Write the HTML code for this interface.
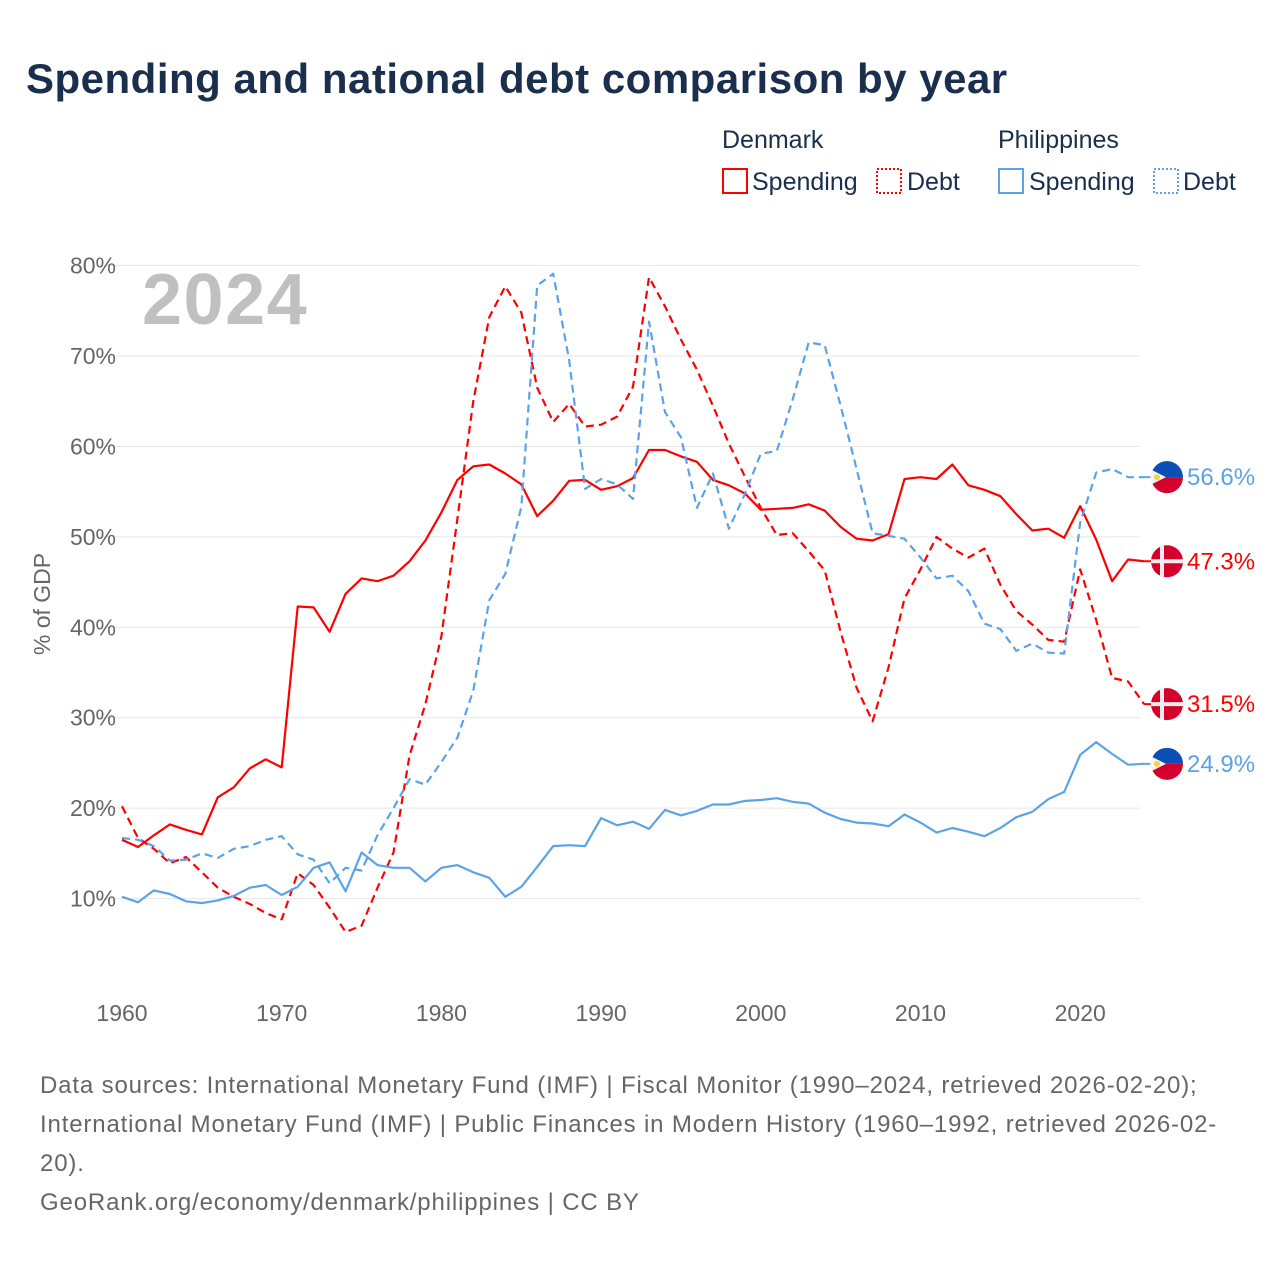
<!DOCTYPE html>
<html><head><meta charset="utf-8"><style>
body{margin:0;background:#fff;font-family:"Liberation Sans",sans-serif;}
svg text{font-family:"Liberation Sans",sans-serif;}
</style></head><body>
<svg width="1280" height="1280" viewBox="0 0 1280 1280" id="c">
<text x="26" y="93" font-size="42" font-weight="bold" fill="#1a2e4d" letter-spacing="0.5">Spending and national debt comparison by year</text>
<g font-size="25" fill="#1a2e4d">
<text x="722" y="148" fill="#1a2e4d">Denmark</text>
<text x="998" y="148" fill="#1a2e4d">Philippines</text>
<g><rect x="723" y="169" width="24" height="24" fill="none" stroke="#f00" stroke-width="2"/><text x="752" y="190" fill="#1a2e4d">Spending</text></g>
<g><rect x="877" y="169" width="24" height="24" fill="none" stroke="#f00" stroke-width="2" stroke-dasharray="2,2"/><text x="907" y="190" fill="#1a2e4d">Debt</text></g>
<g><rect x="999" y="169" width="24" height="24" fill="none" stroke="#5ba3e8" stroke-width="2"/><text x="1029" y="190" fill="#1a2e4d">Spending</text></g>
<g><rect x="1154" y="169" width="24" height="24" fill="none" stroke="#5ba3e8" stroke-width="2" stroke-dasharray="2,2"/><text x="1183" y="190" fill="#1a2e4d">Debt</text></g>
</g>
<text x="142" y="324" font-size="72" font-weight="bold" fill="#c0c0c0" letter-spacing="1.5">2024</text>
<g id="grid"></g><g id="series"></g><g id="ends"></g>
<text transform="translate(50,604) rotate(-90)" text-anchor="middle" font-size="23" fill="#666">% of GDP</text>
<g font-size="24" fill="#666" letter-spacing="0.85">
<text x="40" y="1093" fill="#666">Data sources: International Monetary Fund (IMF) | Fiscal Monitor (1990–2024, retrieved 2026-02-20);</text>
<text x="40" y="1132" fill="#666">International Monetary Fund (IMF) | Public Finances in Modern History (1960–1992, retrieved 2026-02-</text>
<text x="40" y="1171" fill="#666">20).</text>
<text x="40" y="1210" fill="#666">GeoRank.org/economy/denmark/philippines | CC BY</text>
</g>
</svg>
<script>
const years=[];for(let y=1960;y<=2024;y++)years.push(y);
const yTicks=[10,20,30,40,50,60,70,80];
const xTicks=[1960,1970,1980,1990,2000,2010,2020];
const dkSpending=[16.5,15.7,17.0,18.2,17.6,17.1,21.2,22.3,24.4,25.4,24.5,42.3,42.2,39.5,43.7,45.4,45.1,45.7,47.3,49.6,52.7,56.3,57.8,58.0,57.0,55.8,52.3,54.0,56.2,56.3,55.2,55.6,56.5,59.6,59.6,58.9,58.3,56.3,55.7,54.8,53.0,53.1,53.2,53.6,52.9,51.1,49.8,49.6,50.3,56.4,56.6,56.4,58.0,55.7,55.2,54.5,52.5,50.7,50.9,49.9,53.4,49.7,45.1,47.5,47.3];
const dkDebt=[20.2,16.7,15.5,13.9,14.6,12.9,11.2,10.2,9.4,8.4,7.7,12.8,11.5,9.0,6.3,7.0,11.2,15.1,25.8,31.5,39.0,52.0,65.0,74.3,77.7,74.8,66.5,62.7,64.7,62.2,62.4,63.3,66.6,78.7,75.5,71.8,68.5,64.5,60.3,56.7,53.2,50.2,50.4,48.4,46.3,39.5,33.3,29.6,35.6,43.2,46.4,50.0,48.7,47.7,48.7,44.7,41.8,40.3,38.6,38.4,46.4,40.8,34.4,34.0,31.5];
const phSpending=[10.2,9.6,10.9,10.5,9.7,9.5,9.8,10.3,11.2,11.5,10.4,11.3,13.4,14.0,10.8,15.1,13.7,13.4,13.4,11.9,13.4,13.7,12.9,12.3,10.2,11.3,13.5,15.8,15.9,15.8,18.9,18.1,18.5,17.7,19.8,19.2,19.7,20.4,20.4,20.8,20.9,21.1,20.7,20.5,19.5,18.8,18.4,18.3,18.0,19.3,18.4,17.3,17.8,17.4,16.9,17.8,19.0,19.6,21.0,21.8,25.9,27.3,26.0,24.8,24.9];
const phDebt=[16.7,16.5,15.8,14.2,14.3,15.0,14.5,15.5,15.8,16.5,16.9,14.9,14.3,11.7,13.4,13.1,17.0,20.0,23.2,22.6,25.1,27.8,33.0,43.0,45.9,53.3,77.8,79.1,69.5,55.3,56.4,55.8,54.2,73.8,63.8,61.0,53.2,57.0,50.9,54.7,59.2,59.5,65.2,71.5,71.2,64.5,57.5,50.4,50.1,49.8,47.7,45.4,45.7,44.0,40.4,39.8,37.4,38.2,37.2,37.1,51.6,57.1,57.5,56.6,56.6];
const NS='http://www.w3.org/2000/svg';
const X=y=>122+(y-1960)*15.97;
const Y=v=>989-v*9.043;
function mk(t,a,p){const e=document.createElementNS(NS,t);for(const k in a)e.setAttribute(k,a[k]);p.appendChild(e);return e;}
const grid=document.getElementById('grid');
yTicks.forEach(v=>{
 const l=mk('line',{x1:100,x2:1140,y1:Y(v),y2:Y(v),stroke:'#e6e6e6','stroke-width':1},grid);
 
 
 const t=mk('text',{x:116,y:Y(v)+8,'text-anchor':'end','font-size':23,fill:'#666'},grid);
 t.textContent=v+'%';
 
 
});
xTicks.forEach(v=>{
 const t=mk('text',{x:X(v),y:1021,'text-anchor':'middle','font-size':23,fill:'#666'},grid);
 t.textContent=v;
 
 
});
const ser=document.getElementById('series');
[[dkSpending,'#f00',null,'dk-spending-line'],[dkDebt,'#f00','8,5','dk-debt-line'],[phSpending,'#5ba3e8',null,'ph-spending-line'],[phDebt,'#5ba3e8','8,5','ph-debt-line']].forEach(s=>{
 const d=s[0].map((v,i)=>(i?'L':'M')+X(years[i]).toFixed(1)+','+Y(v).toFixed(1)).join('');
 const a={d:d,fill:'none',stroke:s[1],'stroke-width':2.2,'stroke-linejoin':'round'};
 if(s[2])a['stroke-dasharray']=s[2];
 const p=mk('path',a,ser);
 
 
});
const ends=document.getElementById('ends');
function flag(v,country,color,name){
 const cx=1167,cy=Y(v),r=16;
 mk('line',{x1:X(2024),x2:cx,y1:cy,y2:cy,stroke:color,'stroke-width':2},ends);
 const g=mk('g',{},ends);
 
 
 if(country==='dk'){
  mk('circle',{cx:cx,cy:cy,r:r,fill:'#d5002b'},g);
  mk('rect',{x:cx-7,y:cy-r,width:4,height:2*r,fill:'#eee'},g);
  mk('rect',{x:cx-r,y:cy-2,width:2*r,height:4,fill:'#eee'},g);
 } else {
  mk('path',{d:`M${cx-r},${cy} A${r},${r} 0 0 1 ${cx+r},${cy} Z`,fill:'#0a4fb5'},g);
  mk('path',{d:`M${cx-r},${cy} A${r},${r} 0 0 0 ${cx+r},${cy} Z`,fill:'#d5002b'},g);
  mk('path',{d:`M${cx-15},${cy-7} L${cx-1},${cy} L${cx-15},${cy+7} A${r},${r} 0 0 1 ${cx-15},${cy-7}Z`,fill:'#f4f4f4'},g);
  mk('circle',{cx:cx-10,cy:cy,r:3,fill:'#f5d33c'},g);
 }
 const t=mk('text',{x:1187,y:cy+8,'font-size':24,fill:color},ends);
 t.textContent=v.toFixed(1)+'%';
 
 
}
flag(phDebt[64],'ph','#5ba3e8','ph-debt');
flag(dkSpending[64],'dk','#f00','dk-spending');
flag(dkDebt[64],'dk','#f00','dk-debt');
flag(phSpending[64],'ph','#5ba3e8','ph-spending');
</script>
</body></html>
